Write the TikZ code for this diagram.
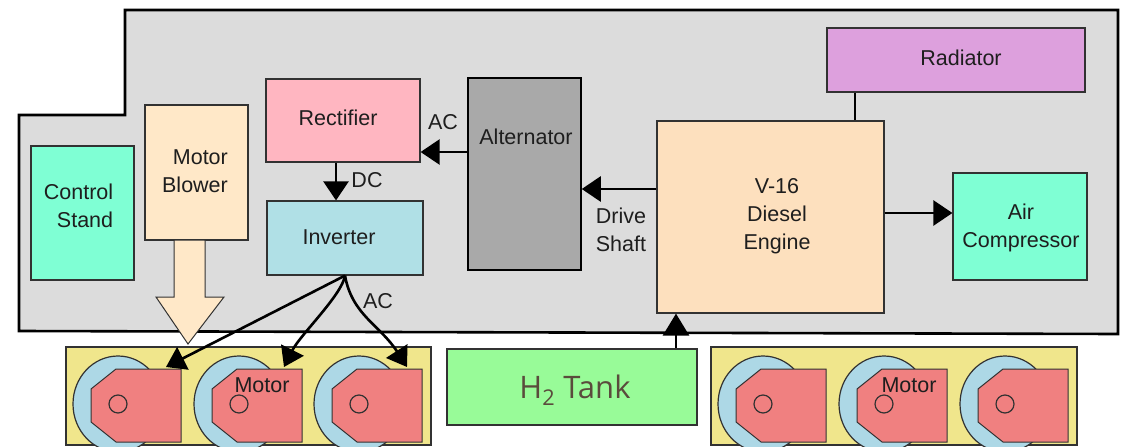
\documentclass[tikz,border=0pt]{standalone}
\usepackage{fontspec}
\setmainfont{Liberation Sans}
\newfontfamily\tankfont{Open Sans}
\usetikzlibrary{arrows.meta,positioning}
\definecolor{bodygray}{RGB}{220,220,220}
\definecolor{standgreen}{RGB}{127,255,212}
\definecolor{blowercream}{RGB}{255,232,200}
\definecolor{rectpink}{RGB}{255,182,193}
\definecolor{invblue}{RGB}{176,224,230}
\definecolor{altgray}{RGB}{169,169,169}
\definecolor{enginecream}{RGB}{253,224,190}
\definecolor{radplum}{RGB}{221,160,221}
\definecolor{tankgreen}{RGB}{152,251,152}
\definecolor{tanktext}{RGB}{90,75,60}
\definecolor{truckyellow}{RGB}{240,230,140}
\definecolor{wheelblue}{RGB}{173,216,230}
\definecolor{motorred}{RGB}{240,128,128}
\definecolor{edgegray}{RGB}{50,50,50}
\definecolor{inkgray}{RGB}{30,30,30}
\tikzset{
  unit/.style={draw=edgegray,line width=1.2pt,inner sep=0pt},
  txt/.style={font=\fontsize{21.5}{28}\selectfont,inner sep=0pt,align=center,text=inkgray},
  feed/.style={-{Triangle[length=19pt,width=25pt]},line width=2.6pt,black},
}
\begin{document}
\begin{tikzpicture}[x=1pt,y=-1pt]
  \useasboundingbox (0,0) rectangle (1127,447);
  % Locomotive body
  \draw[line width=2.6pt,fill=bodygray] (125,10) -- (1118,10) -- (1118,334) -- (19,331) -- (19,115) -- (125,115) -- cycle;
  % Units inside the body
  \node[unit,fill=standgreen,minimum width=103pt,minimum height=134pt] (stand) at (82.5,213) {};
  \node[txt,align=right] (standtxt) at (78.5,206) {Control\\Stand};
  \node[unit,fill=blowercream,minimum width=103pt,minimum height=135pt] (blower) at (196.5,172.5) {};
  \node[txt,align=right] (blowertxt) at (195,171) {Motor\\Blower};
  \node[unit,fill=rectpink,minimum width=154pt,minimum height=83pt] (rectifier) at (343,120.5) {};
  \node[txt] (rectifiertxt) at (338,118) {Rectifier};
  \node[unit,fill=invblue,minimum width=156pt,minimum height=74pt] (inverter) at (345,238) {};
  \node[txt] (invertertxt) at (339,237) {Inverter};
  \node[unit,draw=black,line width=1.5pt,fill=altgray,minimum width=113pt,minimum height=192pt] (alternator) at (524.5,174) {};
  \node[txt] (alternatortxt) at (526,137) {Alternator};
  \node[unit,fill=enginecream,minimum width=227pt,minimum height=192pt] (engine) at (770.5,217) {};
  \node[txt] (enginetxt) at (777,216) {V-16\\Diesel\\Engine};
  \node[unit,fill=radplum,minimum width=258pt,minimum height=64pt] (radiator) at (956,60) {};
  \node[txt] (radiatortxt) at (961,58) {Radiator};
  \node[unit,fill=standgreen,minimum width=134pt,minimum height=107pt] (compressor) at (1020,226.5) {};
  \node[txt] (compressortxt) at (1021,228) {Air\\Compressor};
  % Trucks
  \node[unit,fill=truckyellow,minimum width=365pt,minimum height=98pt] (truckL) at (248.5,396) {};
  \node[unit,fill=truckyellow,minimum width=366pt,minimum height=98pt] (truckR) at (894,396) {};
  \node[unit,fill=tankgreen,minimum width=250pt,minimum height=76pt] (tank) at (572,387) {};
  \node[txt,font=\fontsize{31}{34}\selectfont\tankfont,text=tanktext] (tanktxt) at (575,390) {H\textsubscript{2} Tank};
  % Wheels and motors
  \foreach \cx in {118,239,359,763,884,1005} {
    \begin{scope}[shift={(\cx,404)}]
      \draw[edgegray,line width=1.2pt,fill=wheelblue] (0,0) ellipse (45 and 48);
      \draw[edgegray,line width=1pt,fill=motorred] (-2,-35) -- (63,-35) -- (63,38) -- (-2,38) -- (-27,18) -- (-27,-15) -- cycle;
      \draw[edgegray,line width=1.2pt] (0,0) circle (9);
    \end{scope}
  }
  \node[txt] (motortxtL) at (262,385) {Motor};
  \node[txt] (motortxtR) at (909,385) {Motor};
  % Air from the blower
  \draw[edgegray,line width=1pt,fill=blowercream] (174,240) -- (205,240) -- (205,297) -- (224,297) -- (188,344) -- (156,297) -- (174,297) -- cycle;
  % Power flow
  \coordinate (feedA) at (166,367);
  \coordinate (feedB) at (284,367);
  \coordinate (feedC) at (407,367);
  \draw[feed] (alternator.west |- 0,152) -- (rectifier.east |- 0,152);
  \draw[feed] ([xshift=-7pt]rectifier.south) -- ([xshift=-9pt]inverter.north);
  \draw[feed] (engine.west |- 0,189) -- (alternator.east |- 0,189);
  \draw[feed] (engine.east |- 0,213) -- (compressor.west |- 0,213);
  \draw[line width=2.2pt] (radiator.south west -| 855,0) -- (engine.north west -| 855,0);
  \draw[feed,-{Triangle[length=22pt,width=26pt]}] ([xshift=104pt]tank.north) -- ([xshift=-94.5pt]engine.south);
  \draw[feed] (inverter.south) -- (feedA);
  \draw[feed] (inverter.south) .. controls (342,295) and (300,335) .. (feedB);
  \draw[feed] (inverter.south) .. controls (352,315) and (380,325) .. (feedC);
  % Connector labels
  \node[txt] (acrect) at (443,122) {AC};
  \node[txt] (dcinv) at (367,180) {DC};
  \node[txt] (shaft) at (621,230) {Drive\\Shaft};
  \node[txt] (acmotor) at (378,301) {AC};
\end{tikzpicture}
\end{document}
